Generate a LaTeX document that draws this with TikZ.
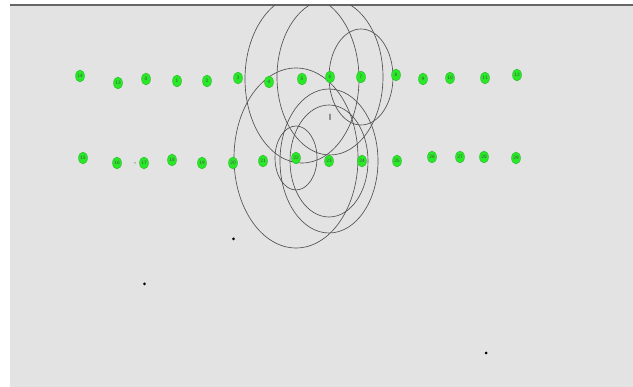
\documentclass[tikz,border=0pt]{standalone}
\usetikzlibrary{shapes.geometric,backgrounds}
\definecolor{canvas}{RGB}{227,227,227}
\definecolor{moteg}{RGB}{40,232,40}
\definecolor{rangec}{RGB}{80,80,80}
\begin{document}
\begin{tikzpicture}[x=1pt, y=-1pt,
    mote/.style={ellipse, fill=moteg, draw=moteg!75!black, line width=0.3pt,
        minimum width=9pt, minimum height=12pt, inner sep=0pt,
        font=\sffamily\fontsize{5}{5}\selectfont, text=black!70},
    reach/.style={draw=rangec, line width=0.65pt},
    sink/.style={circle, fill=black, minimum size=3pt, inner sep=0pt}]
    \useasboundingbox (0,0) rectangle (633,387);

    % Upper row of motes
    \foreach \n/\x/\y in {14/80/76, 13/118/83, 0/146/79, 1/177/81, 2/207/81,
        3/238/78, 4/269/82, 5/302/79, 6/330/77, 7/361/77, 8/396/75,
        9/423/79, 10/450/78, 11/485/78, 12/517/75} {
        \node[mote] (n\n) at (\x,\y) {\n};
    }
    % Lower row of motes
    \foreach \n/\x/\y in {15/83/158, 16/117/163, 17/144/163, 18/172/160,
        19/202/163, 20/233/163, 21/263/161, 22/296/158, 23/329/161,
        24/362/161, 25/397/161, 26/432/157, 27/460/157, 28/484/157,
        29/516/158} {
        \node[mote] (n\n) at (\x,\y) {\n};
    }

    % Loose points
    \node[sink] (s1) at (233.5,239) {};
    \node[sink] (s2) at (144.5,284) {};
    \node[sink] (s3) at (486,353) {};
    \node[circle, fill=black!50, minimum size=1.5pt, inner sep=0pt] (s0) at (135,163) {};
    \node[font=\sffamily\bfseries\fontsize{9}{9}\selectfont, text=black!60, inner sep=0pt] (cursor) at (330,117) {I};

    % Canvas and radio ranges
    \begin{scope}[on background layer]
        \fill[canvas] (10,5) rectangle (633,387);
        \draw[black!60, line width=1.5pt] (10,5) -- (633,5);
        \begin{scope}
            \clip (10,6) rectangle (633,387);
            \draw[reach] (n5.center) ellipse [x radius=57pt, y radius=84pt];
            \draw[reach] (n6.center) ellipse [x radius=53pt, y radius=78pt];
            \draw[reach] (n7.center) ellipse [x radius=32pt, y radius=48pt];
            \draw[reach] (n22.center) ellipse [x radius=62pt, y radius=90pt];
            \draw[reach] (n22.center) ellipse [x radius=21pt, y radius=32pt];
            \draw[reach] (n23.center) ellipse [x radius=49pt, y radius=72pt];
            \draw[reach] (n23.center) ellipse [x radius=39pt, y radius=56pt];
        \end{scope}
    \end{scope}
\end{tikzpicture}
\end{document}
